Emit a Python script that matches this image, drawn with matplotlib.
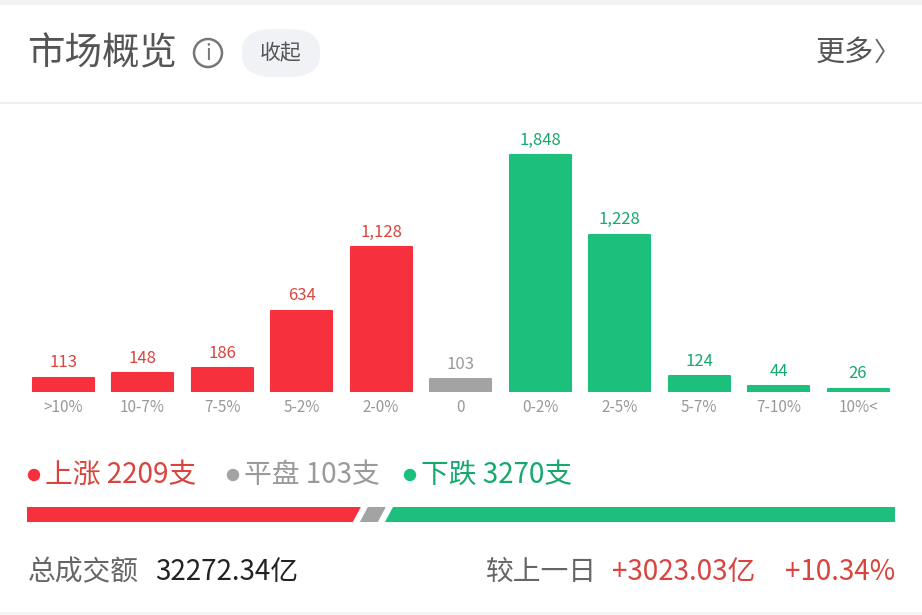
import matplotlib
matplotlib.use("Agg")
import matplotlib.pyplot as plt
from matplotlib.patches import Polygon, FancyBboxPatch, Ellipse

plt.rcParams['font.family'] = ['Noto Sans CJK SC', 'DejaVu Sans']

categories = [">10%", "10-7%", "7-5%", "5-2%", "2-0%", "0", "0-2%", "2-5%", "5-7%", "7-10%", "10%<"]
values = [113, 148, 186, 634, 1128, 103, 1848, 1228, 124, 44, 26]
groups = ["up"] * 5 + ["flat"] + ["down"] * 5
up_count, flat_count, down_count = 2209, 103, 3270
turnover = "32272.34亿"
change_amt = "+3023.03亿"
change_pct = "+10.34%"

RED, GREEN, GRAY = "#f7303d", "#1dbf7c", "#a3a3a3"
RED_T, GREEN_T, GRAY_T = "#d9443e", "#17a86e", "#9a9a9a"
col = {"up": RED, "flat": GRAY, "down": GREEN}
tcol = {"up": RED_T, "flat": GRAY_T, "down": GREEN_T}

W, H = 922, 615
fig = plt.figure(figsize=(W/100, H/100), dpi=100)
fig.patch.set_facecolor("white")

def fx(x): return x / W
def fy(y): return 1 - y / H
def txt(x, y, s, **kw):
    fig.text(fx(x), fy(y), s, **kw)
def dot(x, y, r, **kw):
    fig.add_artist(Ellipse((fx(x), fy(y)), 2*r/W, 2*r/H, transform=fig.transFigure, **kw))

fig.add_artist(plt.Rectangle((0, fy(5)), 1, 5/H, transform=fig.transFigure, color="#f3f3f3", lw=0))
fig.add_artist(plt.Line2D([0, 1], [fy(103), fy(103)], transform=fig.transFigure, color="#ececec", lw=1.2))
fig.add_artist(plt.Rectangle((0, 0), 1, 3/H, transform=fig.transFigure, color="#f3f3f3", lw=0))

# header
txt(27, 54, "市场概览", fontsize=27, color="#555555", va="center")
dot(208, 53, 14, fc="none", ec="#777777", lw=1.8)
txt(208, 54, "i", fontsize=15, color="#777777", va="center", ha="center")
fig.add_artist(FancyBboxPatch((fx(242), fy(77)), 78/W, 48/H, boxstyle="round,pad=0,rounding_size=0.035",
                              transform=fig.transFigure, fc="#f1f2f6", ec="none"))
txt(281, 53, "收起", fontsize=15, color="#555555", va="center", ha="center")
txt(874, 53, "更多", fontsize=21, color="#555555", va="center", ha="right")
txt(887, 53, "〉", fontsize=19, color="#666666", va="center", ha="center")

# bar chart
pitch = 79.5
left = 63 - pitch/2
ax = fig.add_axes([fx(left), fy(392), 11*pitch/W, 282/H])
ymax = 1848 * 282 / 237
xs = list(range(len(values)))
ax.bar(xs, values, width=61/pitch, color=[col[g] for g in groups],
       edgecolor=[col[g] for g in groups], linewidth=1.5, joinstyle="round")
for x, v, g in zip(xs, values, groups):
    ax.text(x, v + ymax*0.022, f"{v:,}", ha="center", va="bottom", fontsize=12, color=tcol[g])
ax.set_xlim(-0.5, 10.5)
ax.set_ylim(0, ymax)
ax.set_xticks(xs)
ax.set_xticklabels(categories, fontsize=11, color="#999999")
ax.tick_params(axis="x", length=0, pad=5)
ax.set_yticks([])
for s in ax.spines.values():
    s.set_visible(False)
ax.patch.set_alpha(0)

# legend row
y = 475
for x0, c, tc, label in [(34, RED, RED_T, f"上涨 {up_count}支"),
                          (233, GRAY, GRAY_T, f"平盘 {flat_count}支"),
                          (410, GREEN, GREEN_T, f"下跌 {down_count}支")]:
    dot(x0, y, 5.5, color=c)
    txt(x0 + 11, y, label, fontsize=20, color=tc, va="center")

# split bar
x_start, x_end, gap, slant = 27, 895, 7, 8
avail = x_end - x_start - 2*gap
g_w = 26
r_w = (avail - g_w) * up_count / (up_count + down_count)
yt, yb = 507, 522
def para(xl, xr, c, left_flat=False, right_flat=False):
    pts = [(xl if left_flat else xl + slant, yt), (xr if right_flat else xr + slant, yt),
           (xr, yb), (xl, yb)]
    pts = [(fx(a), fy(b)) for a, b in pts]
    fig.add_artist(Polygon(pts, closed=True, transform=fig.transFigure, color=c, lw=0))
x1 = x_start + r_w
para(x_start, x1 - slant, RED, left_flat=True)
x2 = x1 + gap
para(x2 - slant, x2 + g_w - 2*slant, GRAY)
x3 = x2 + g_w + gap - slant
para(x3 - slant, x_end, GREEN, right_flat=True)

# bottom row
txt(28, 572, "总成交额", fontsize=20, color="#666666", va="center")
txt(155, 572, turnover, fontsize=20, color="#222222", va="center")
txt(486, 572, "较上一日", fontsize=20, color="#666666", va="center")
txt(612, 572, change_amt, fontsize=20, color=RED_T, va="center")
txt(895, 572, change_pct, fontsize=20, color=RED_T, va="center", ha="right")

fig.savefig("out.png", dpi=100, facecolor="white")
